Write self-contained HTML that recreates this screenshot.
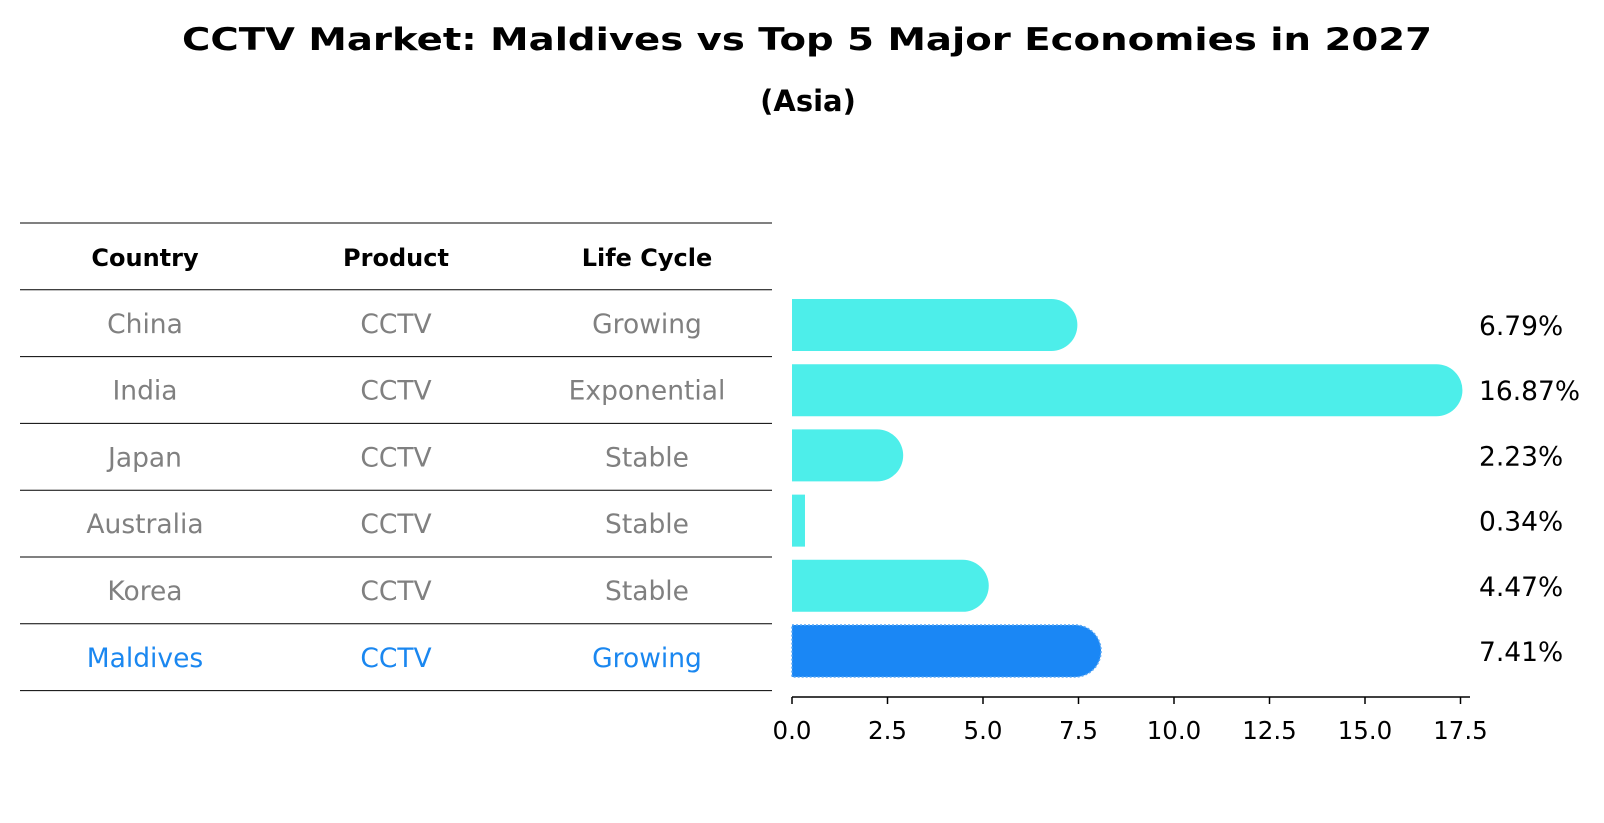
<!DOCTYPE html>
<html><head><meta charset="utf-8"><style>
html,body{margin:0;padding:0;background:#fff;}
svg{display:block;font-family:"DejaVu Sans","Liberation Sans",sans-serif;}
</style></head><body>
<svg id="chart" width="1604" height="823" viewBox="0 0 1604 823" xmlns="http://www.w3.org/2000/svg">
<text x="807" y="50" text-anchor="middle" font-size="31" font-weight="bold" textLength="1250" lengthAdjust="spacingAndGlyphs">CCTV Market: Maldives vs Top 5 Major Economies in 2027</text>
<text x="808" y="111" text-anchor="middle" font-size="29" font-weight="bold">(Asia)</text>
<g id="table"></g>
<g id="bars"></g>
</svg>
<script>
const countries = ["China","India","Japan","Australia","Korea","Maldives"];
const products = ["CCTV","CCTV","CCTV","CCTV","CCTV","CCTV"];
const lifeCycles = ["Growing","Exponential","Stable","Stable","Stable","Growing"];
const growthValues = [6.79,16.87,2.23,0.34,4.47,7.41];
const xTicks = [0,2.5,5,7.5,10,12.5,15,17.5];
const headers = ["Country","Product","Life Cycle"];

const NS="http://www.w3.org/2000/svg";
function mk(tag, attrs, parent){const e=document.createElementNS(NS,tag);for(const k in attrs)e.setAttribute(k,attrs[k]);parent.appendChild(e);return e;}
const table=document.getElementById('table');
const bars=document.getElementById('bars');

// table
const colX=[145,396,647];
const lineY=i=>223+i*66.8;
for(let i=0;i<=countries.length+1;i++){
  const l=mk('line',{x1:20,x2:772,y1:lineY(i),y2:lineY(i),stroke:'#000','stroke-width':1},table);
  
  
}
headers.forEach((h,j)=>{
  const t=mk('text',{x:colX[j],y:lineY(0)+43,'text-anchor':'middle','font-size':24,'font-weight':'bold'},table);
  t.textContent=h;
  
  
});
countries.forEach((c,i)=>{
  const col = c==="Maldives" ? '#1a87f0' : '#808080';
  [c,products[i],lifeCycles[i]].forEach((v,j)=>{
    const t=mk('text',{x:colX[j],y:lineY(i+1)+43,'text-anchor':'middle','font-size':26.5,fill:col},table);
    t.textContent=v;
    
    
  });
});

// bar chart
const x0=792, pxPerUnit=38.2, axisY=697;
const xs=v=>x0+v*pxPerUnit;
const rowY=i=>325+i*65.2;
const bh=52, r=26;
growthValues.forEach((v,i)=>{
  const isM=countries[i]==="Maldives";
  const fill=isM?'#1a87f5':'#4deeea';
  const w=xs(v)-x0;
  const g=mk('g',{},bars);
  
  
  const d = w>r
    ? `M${x0},${rowY(i)-bh/2} H${x0+w} A${r},${r} 0 0 1 ${x0+w},${rowY(i)+bh/2} H${x0} Z`
    : `M${x0},${rowY(i)-bh/2} H${x0+w} V${rowY(i)+bh/2} H${x0} Z`;
  const p=mk('path',{d:d,fill:fill},g);
  if(isM){p.setAttribute('stroke','#5aa8f5');p.setAttribute('stroke-width','1.5');p.setAttribute('stroke-dasharray','2 2');}
  const t=mk('text',{x:1479,y:rowY(i)+10,'font-size':26.5,fill:'#000'},bars);
  t.textContent=v.toFixed(2)+'%';
  
  
});
const ax=mk('line',{x1:x0,x2:1470,y1:axisY,y2:axisY,stroke:'#000','stroke-width':1.5},bars);


xTicks.forEach(v=>{
  const tk=mk('line',{x1:xs(v),x2:xs(v),y1:axisY,y2:axisY+7,stroke:'#000','stroke-width':1.5},bars);
  
  
  const t=mk('text',{x:xs(v),y:axisY+42,'text-anchor':'middle','font-size':24.5},bars);
  t.textContent=v.toFixed(1);
  
  
});
</script>
</body></html>
